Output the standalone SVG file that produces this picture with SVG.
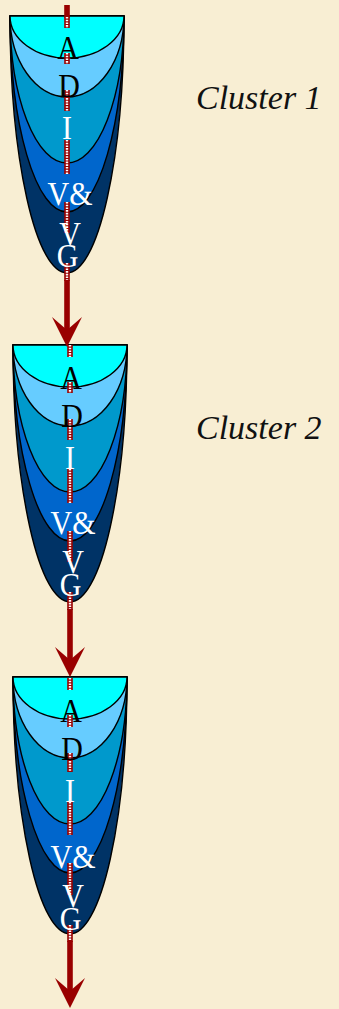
<svg xmlns="http://www.w3.org/2000/svg" width="339" height="1009" viewBox="0 0 339 1009">
  <defs>
    <style>
      .bg { fill: #f8eed3; }
      .layer { stroke: #000; stroke-width: 1.4; stroke-linejoin: round; }
      .l5 { fill: #003366; }
      .l4 { fill: #0066cc; }
      .l3 { fill: #0099cc; }
      .l2 { fill: #66ccff; }
      .l1 { fill: #00ffff; }
      .lt { font-family: "Liberation Serif", "Times New Roman", serif; font-size: 30px; text-anchor: middle; }
      .dark { fill: #000; }
      .light { fill: #fff; }
      .shaft { stroke: #990000; stroke-width: 5.6; fill: none; }
      .dots { stroke: #fff; stroke-width: 2.4; stroke-dasharray: 1.6 1.1; fill: none; }
      .cl { font-family: "Liberation Serif", "Times New Roman", serif; font-style: italic; font-size: 34px; fill: #111; }
    </style>
    <marker id="head" markerUnits="userSpaceOnUse" viewBox="0 0 30 30" markerWidth="30" markerHeight="30" refX="15" refY="15" orient="auto">
      <path d="M0,0 L30,15 L0,30 L13,15 Z" fill="#990000"/>
    </marker>
  </defs>

  <rect class="bg" x="0" y="0" width="339" height="1009"/>

  <g id="cup1" transform="translate(10,16)">
    <path class="layer l5" d="M0,0 A57,257 0 0 0 114,0 Z"/>
    <path class="layer l4" d="M0,0 A57,196 0 0 0 114,0 Z"/>
    <path class="layer l3" d="M0,0 A57,147 0 0 0 114,0 Z"/>
    <path class="layer l2" d="M0,0 A57,81 0 0 0 114,0 Z"/>
    <path class="layer l1" d="M0,0 A57,42 0 0 0 114,0 Z"/>
  </g>

  <g id="cup2" transform="translate(13,345)">
    <path class="layer l5" d="M0,0 A57,257 0 0 0 114,0 Z"/>
    <path class="layer l4" d="M0,0 A57,196 0 0 0 114,0 Z"/>
    <path class="layer l3" d="M0,0 A57,147 0 0 0 114,0 Z"/>
    <path class="layer l2" d="M0,0 A57,81 0 0 0 114,0 Z"/>
    <path class="layer l1" d="M0,0 A57,42 0 0 0 114,0 Z"/>
  </g>

  <g id="cup3" transform="translate(13,677)">
    <path class="layer l5" d="M0,0 A57,257 0 0 0 114,0 Z"/>
    <path class="layer l4" d="M0,0 A57,196 0 0 0 114,0 Z"/>
    <path class="layer l3" d="M0,0 A57,147 0 0 0 114,0 Z"/>
    <path class="layer l2" d="M0,0 A57,81 0 0 0 114,0 Z"/>
    <path class="layer l1" d="M0,0 A57,42 0 0 0 114,0 Z"/>
  </g>

  <g id="connectors">
    <!-- cup 1 line x=67, top 16 -->
    <line class="shaft" x1="67" y1="5" x2="67" y2="18"/>
    <g id="dots1" transform="translate(67,16)">
      <path class="shaft" d="M0,1 V12 M0,37 V48 M0,74 V95 M0,124 V158 M0,186 V217 M0,247 V265"/>
      <path class="dots" d="M0,1 V12 M0,37 V48 M0,74 V95 M0,124 V158 M0,186 V217 M0,247 V264"/>
    </g>
    <line class="shaft" x1="67" y1="280" x2="67" y2="332" marker-end="url(#head)"/>
    <!-- cup 2 line x=70, top 345 -->
    <g id="dots2" transform="translate(70,345)">
      <path class="shaft" d="M0,0 V12 M0,37 V48 M0,74 V95 M0,124 V158 M0,186 V217 M0,247 V265"/>
      <path class="dots" d="M0,0 V12 M0,37 V48 M0,74 V95 M0,124 V158 M0,186 V217 M0,247 V264"/>
    </g>
    <line class="shaft" x1="70" y1="609" x2="70" y2="662" marker-end="url(#head)"/>
    <!-- cup 3 line x=70, top 677 -->
    <g id="dots3" transform="translate(70,677)">
      <path class="shaft" d="M0,1 V13 M0,38 V50 M0,76 V95 M0,125 V158 M0,186 V218 M0,248 V265"/>
      <path class="dots" d="M0,1 V13 M0,38 V50 M0,76 V95 M0,125 V158 M0,186 V218 M0,248 V264"/>
    </g>
    <line class="shaft" x1="70" y1="941" x2="70" y2="993" marker-end="url(#head)"/>
  </g>

  <g id="labels1" transform="translate(10,16)">
    <text class="lt dark" transform="translate(58,43) scale(1,1.12)">A</text>
    <text class="lt dark" transform="translate(59,81) scale(1,1.12)">D</text>
    <text class="lt light" transform="translate(57,123) scale(1,1.12)">I</text>
    <text class="lt light" transform="translate(60,189) scale(1,1.12)">V&amp;</text>
    <text class="lt light" transform="translate(60,229) scale(1,1.12)">V</text>
    <text class="lt light" transform="translate(57.5,251) scale(1,1.12)">G</text>
  </g>
  <g id="labels2" transform="translate(13,345)">
    <text class="lt dark" transform="translate(58,44) scale(1,1.12)">A</text>
    <text class="lt dark" transform="translate(59,82) scale(1,1.12)">D</text>
    <text class="lt light" transform="translate(57,124) scale(1,1.12)">I</text>
    <text class="lt light" transform="translate(60,189) scale(1,1.12)">V&amp;</text>
    <text class="lt light" transform="translate(60,228) scale(1,1.12)">V</text>
    <text class="lt light" transform="translate(57.5,251) scale(1,1.12)">G</text>
  </g>
  <g id="labels3" transform="translate(13,677)">
    <text class="lt dark" transform="translate(58,45) scale(1,1.12)">A</text>
    <text class="lt dark" transform="translate(59,83) scale(1,1.12)">D</text>
    <text class="lt light" transform="translate(57,125) scale(1,1.12)">I</text>
    <text class="lt light" transform="translate(60,191) scale(1,1.12)">V&amp;</text>
    <text class="lt light" transform="translate(60,230) scale(1,1.12)">V</text>
    <text class="lt light" transform="translate(57.5,253) scale(1,1.12)">G</text>
  </g>

  <g id="cluster1"><text class="cl" x="196" y="109">Cluster 1</text></g>
  <g id="cluster2"><text class="cl" x="196" y="439">Cluster 2</text></g>
</svg>
